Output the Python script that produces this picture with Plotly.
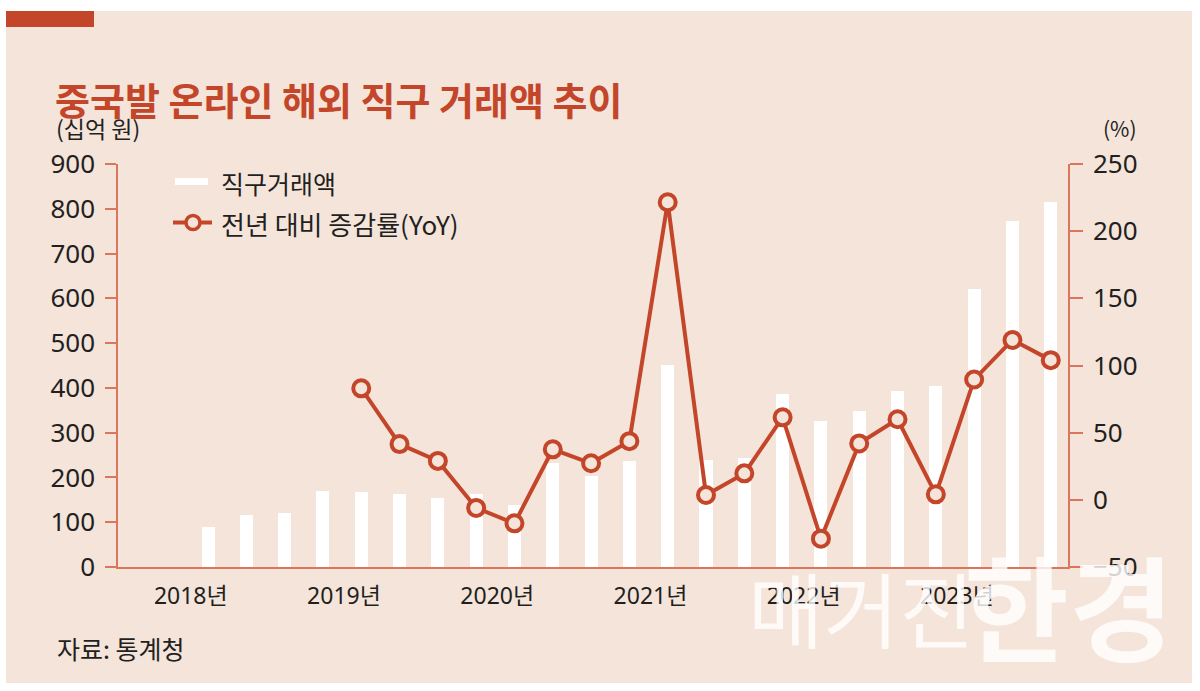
import plotly.graph_objects as go

# ---- data ----
quarters = [f"{y}Q{q}" for y in range(2018, 2024) for q in range(1, 5)][:23]
amount = [90, 116, 120, 170, 168, 164, 155, 163, 138, 233, 203, 237,
          451, 240, 243, 386, 326, 348, 393, 405, 620, 773, 815]
yoy = [None, None, None, None, 83, 41.5, 29, -6, -17.5, 37.6, 27.2, 43.7,
       221.5, 3.6, 19.7, 61.4, -28.9, 42, 60, 4.1, 89.6, 119, 104]
year_labels = ["2018년", "2019년", "2020년", "2021년", "2022년", "2023년"]
left_ticks = list(range(0, 901, 100))
right_ticks = list(range(-50, 251, 50))

x_idx = list(range(len(quarters)))
year_pos = [4 * k - 0.45 for k in range(len(year_labels))]

# ---- styles ----
BG = "#f4e4d9"
RED = "#c4462a"
AXIS = "#d9765c"
TXT = "#231f1e"
KR = "Noto Sans CJK KR, Noto Sans, sans-serif"
NUM = "Noto Sans, Noto Sans CJK KR, sans-serif"

W, H = 1200, 691
L, R, T, B = 118, 1068, 164, 567


def px(xp):
    return (xp - L) / (R - L)


def py(yp):
    return (B - yp) / (B - T)


fig = go.Figure()
fig.add_trace(go.Bar(x=x_idx, y=amount, width=0.34, marker=dict(color="white", line=dict(width=0)),
                     name="직구거래액", yaxis="y", showlegend=False))
fig.add_trace(go.Scatter(x=x_idx, y=yoy, mode="lines+markers", yaxis="y2", name="전년 대비 증감률(YoY)",
                         line=dict(color=RED, width=4),
                         marker=dict(symbol="circle", size=16, color=BG, line=dict(color=RED, width=4)),
                         showlegend=False, connectgaps=False))

shapes = [
    dict(type="rect", xref="paper", yref="paper", x0=px(6), x1=px(1192), y0=py(11), y1=py(683),
         fillcolor=BG, line=dict(width=0), layer="below"),
    dict(type="rect", xref="paper", yref="paper", x0=px(6), x1=px(94), y0=py(11), y1=py(27),
         fillcolor=RED, line=dict(width=0), layer="below"),
    # legend symbols
    dict(type="rect", xref="paper", yref="paper", x0=px(175), x1=px(208), y0=py(178), y1=py(185),
         fillcolor="white", line=dict(width=0)),
    dict(type="line", xref="paper", yref="paper", x0=px(173), x1=px(212), y0=py(222.5), y1=py(222.5),
         line=dict(color=RED, width=4)),
    dict(type="circle", xref="paper", yref="paper", x0=px(186), x1=px(200), y0=py(215.5), y1=py(229.5),
         fillcolor=BG, line=dict(color=RED, width=3.5)),
]

annotations = [
    dict(text="중국발 온라인 해외 직구 거래액 추이", xref="paper", yref="paper", x=px(53), y=py(99),
         xanchor="left", yanchor="middle", showarrow=False,
         font=dict(family=KR, size=38, color=RED, weight="bold")),
    dict(text="(십억 원)", xref="paper", yref="paper", x=px(54), y=py(128), xanchor="left", yanchor="middle",
         showarrow=False, font=dict(family=KR, size=23, color=TXT)),
    dict(text="(%)", xref="paper", yref="paper", x=px(1101), y=py(128), xanchor="left", yanchor="middle",
         showarrow=False, font=dict(family=KR, size=21, color=TXT)),
    dict(text="직구거래액", xref="paper", yref="paper", x=px(219), y=py(183), xanchor="left", yanchor="middle",
         showarrow=False, font=dict(family=KR, size=25, color=TXT)),
    dict(text="전년 대비 증감률(YoY)", xref="paper", yref="paper", x=px(219), y=py(223), xanchor="left",
         yanchor="middle", showarrow=False, font=dict(family=KR, size=26, color=TXT)),
    dict(text="자료: 통계청", xref="paper", yref="paper", x=px(55), y=py(648), xanchor="left", yanchor="middle",
         showarrow=False, font=dict(family=KR, size=25, color=TXT)),
    # watermark
    dict(text="매거진", xref="paper", yref="paper", x=px(746), y=py(606), xanchor="left", yanchor="middle",
         showarrow=False, font=dict(family=KR, size=82, color="rgba(255,255,255,0.8)")),
    dict(text="한경", xref="paper", yref="paper", x=px(962), y=py(603), xanchor="left", yanchor="middle",
         showarrow=False, font=dict(family=KR, size=114, color="rgba(255,255,255,0.8)", weight="bold")),
]

fig.update_layout(
    width=W, height=H,
    margin=dict(l=L, r=W - R, t=T, b=H - B, pad=0),
    paper_bgcolor="white", plot_bgcolor="rgba(0,0,0,0)",
    bargap=0, showlegend=False,
    shapes=shapes, annotations=annotations,
    xaxis=dict(range=[-2.35, 22.45], tickvals=year_pos, ticktext=year_labels, ticks="",
               showline=True, linecolor=AXIS, linewidth=1.5, showgrid=False, zeroline=False,
               tickfont=dict(family=NUM, size=23, color=TXT), ticklabelstandoff=8),
    yaxis=dict(range=[0, 900], tickvals=left_ticks, showline=True, linecolor=AXIS, linewidth=1.5,
               ticks="outside", ticklen=11, tickwidth=1.5, tickcolor=AXIS, showgrid=False, zeroline=False,
               tickfont=dict(family=NUM, size=26, color=TXT), ticklabelstandoff=5),
    yaxis2=dict(range=[-50, 250], tickvals=right_ticks, overlaying="y", side="right", showline=True,
                linecolor=AXIS, linewidth=1.5, ticks="outside", ticklen=13, tickwidth=1.5, tickcolor=AXIS,
                showgrid=False, zeroline=False, tickfont=dict(family=NUM, size=26, color=TXT),
                ticklabelstandoff=5),
)

fig.write_html("out.html")
